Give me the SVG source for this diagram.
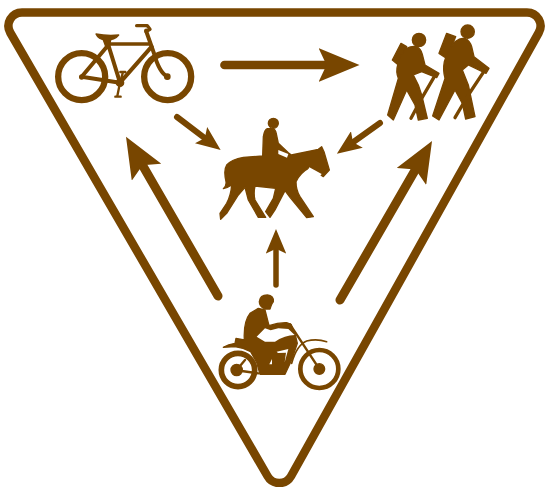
<svg xmlns="http://www.w3.org/2000/svg" width="550" height="487" viewBox="0 0 550 487">
<defs>
<style>
.s{fill:none;stroke:#784600;stroke-linecap:round;stroke-linejoin:round}
.f{fill:#784600;stroke:#784600;stroke-width:4;stroke-linejoin:round}
.w{fill:#fff;stroke:none}
</style>
<marker id="big" viewBox="0 0 41 34" refX="10" refY="17" markerWidth="41" markerHeight="34" orient="auto" markerUnits="userSpaceOnUse"><path fill="#784600" d="M0 0L41 17L0 34L8 17Z"/></marker>
<marker id="small" viewBox="0 0 41 34" refX="10" refY="17" markerWidth="24.6" markerHeight="20.4" orient="auto" markerUnits="userSpaceOnUse"><path fill="#784600" d="M0 0L41 17L0 34L8 17Z"/></marker>
</defs>
<rect width="550" height="487" fill="#fff"/>
<path id="sign" class="s" stroke-width="8.500" d="M22 12.500H527A13.500 13.500 0 0 1 538.700 32.750L291 476.250A13.500 13.500 0 0 1 267.600 476.250L10.300 32.750A13.500 13.500 0 0 1 22 12.500Z"/>
<g id="connectors">
<path class="s" stroke-width="8.700" marker-end="url(#big)" d="M224.500 65H328.500"/>
<path class="s" stroke-width="6" marker-end="url(#small)" d="M177 117L205.800 138.800"/>
<path class="s" stroke-width="6" marker-end="url(#small)" d="M380 123L352 143"/>
<path class="s" stroke-width="9" marker-end="url(#big)" d="M218 296L141.500 163.500"/>
<path class="s" stroke-width="9" marker-end="url(#big)" d="M340 300L416.500 167.800"/>
<path class="s" stroke-width="5.500" marker-end="url(#small)" d="M276 285V247.600"/>
</g>
<g id="bicycle" transform="translate(40 10) scale(.33333)">
<circle class="s" stroke-width="19" cx="125" cy="200" r="70.500"/>
<circle class="s" stroke-width="19" cx="383" cy="200" r="70.500"/>
<path class="s" stroke-width="12" d="M125 200L240 218L205 105ZM240 218L335 110"/>
<path class="s" stroke-width="11" d="M210 102H330"/>
<path class="s" stroke-width="12" d="M318 62L342 130C350 160 362 190 382 200"/>
<path class="s" stroke-width="10" d="M290 47H322L330 58L318 65"/>
<path class="f" d="M168 72Q200 78 236 75Q225 90 197 90Q175 88 168 72Z"/>
<path class="f" d="M190 90H212L208 112H198Z"/>
<circle class="f" cx="382" cy="200" r="8"/>
<circle class="f" cx="125" cy="201" r="6"/>
<circle class="f" cx="240" cy="218" r="11"/>
<path class="s" stroke-width="7" d="M240 218L232 258M226 260H242M240 218L248 190M241 186H256"/>
</g>
<g id="hikers" transform="translate(375 15) scale(.33333)">
<circle class="f" cx="132" cy="75" r="20"/>
<path class="f" d="M78 85L95 95L70 150L52 135Z"/>
<path class="f" d="M95 100Q110 92 125 95Q138 102 142 118L150 150L192 175L185 188L140 170L115 180L130 210L140 240L157 310L130 315L120 270L95 225L55 315L38 300L70 190Q62 170 68 150Q75 120 95 100Z"/>
<path class="s" stroke-width="10" d="M178 185L140 250L108 310"/>
<circle class="f" cx="278" cy="50" r="20"/>
<path class="f" d="M215 55L242 65L215 130L192 115Z"/>
<path class="f" d="M240 80Q255 68 270 70Q285 78 290 95L297 125L342 160L333 175L280 150L262 165L280 210L300 305L272 312L262 265L240 225L192 315L173 303L210 190Q203 165 208 140Q218 105 240 80Z"/>
<path class="s" stroke-width="10" d="M325 172L280 240L240 308"/>
</g>
<g id="horse" transform="translate(210 110) scale(.33333)">
<circle class="f" cx="190" cy="40" r="15"/>
<path class="f" d="M48 215Q40 180 50 165Q65 148 100 142L158 138L160 80Q163 60 172 56H190Q197 60 199 72L205 100L235 128L244 135L325 118L335 110L342 125L358 180L340 200L300 172Q270 188 258 215Q258 240 270 260L310 320L290 323L240 262L225 242L195 300L180 322L167 305L190 265L197 235L135 228Q130 250 135 270L167 322H145L115 270L105 232L85 255L50 310L32 328L30 310L50 280Q63 255 65 225Q55 232 40 236Q50 228 48 215Z"/>
<path class="w" d="M205 120L235 132L231 143L205 132Z"/>
<path class="w" d="M298 172L335 192L330 198L294 180Z"/>
</g>
<g id="motorcycle" transform="translate(210 285) scale(.33333)">
<circle class="s" stroke-width="17" cx="84" cy="255" r="50"/>
<circle class="f" cx="80" cy="255" r="17"/>
<circle class="s" stroke-width="14" cx="328" cy="252" r="57"/>
<circle class="f" cx="328" cy="252" r="16"/>
<path class="s" stroke-width="7" d="M80 255L105 225M95 258L145 265M328 252L240 118"/>
<path class="f" d="M148 50Q150 30 172 30Q192 32 190 50Q185 55 180 72L165 72Q148 65 148 50Z"/>
<path class="f" d="M145 70L165 75L177 122Q205 112 230 113L243 118L256 150L262 175L245 225L225 268L150 268L140 232L122 200Q100 188 75 185L40 187Q55 178 75 175L78 160L103 165Q100 110 120 85Z"/>
<path class="w" d="M140 155L165 130L182 136L205 130L235 132L254 150Q225 150 195 170L165 170Z"/>
<path class="w" d="M200 200L235 192L224 232L228 203L204 204Z"/>
<path class="w" d="M178 238L186 222L186 238Z"/>
<path class="s" stroke-width="5" d="M245 235Q260 180 290 168Q320 160 350 170"/>
</g>
</svg>
